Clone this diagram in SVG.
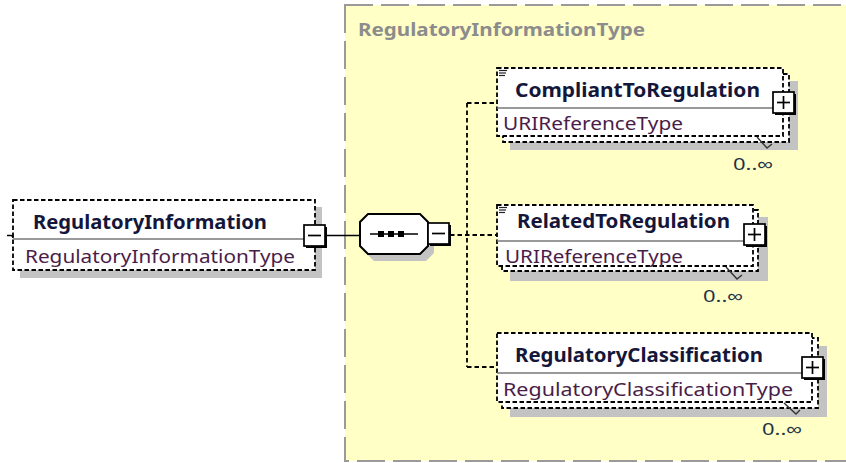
<svg xmlns="http://www.w3.org/2000/svg" width="846" height="463" viewBox="0 0 846 463">
<defs>
<style>
.panel{fill:#ffffc6;stroke:#9a9a9a;stroke-width:2;stroke-dasharray:28 8}
.title{font-family:"Noto Sans","Liberation Sans",sans-serif;font-weight:bold;font-size:18px;fill:#8c8c8c}
.shadow{fill:#c3c3c3}
.box{fill:#fff;stroke:#000;stroke-width:1.8;stroke-dasharray:4.5 2.5}
.div{stroke:#777;stroke-width:1.4}
.name{font-family:"Noto Sans","Liberation Sans",sans-serif;font-weight:bold;font-size:19px;fill:#14163a}
.type{font-family:"Noto Sans","Liberation Sans",sans-serif;font-size:18.5px;fill:#4a1d48}
.occ{font-family:"Noto Sans","Liberation Sans",sans-serif;font-size:17px;fill:#1e3446}
.btnsh{fill:#000}
.btn{fill:#fff;stroke:#000;stroke-width:1.7}
.glyph{stroke:#000;stroke-width:1.7}
.solid{stroke:#000;stroke-width:1.7;fill:none}
.dash{stroke:#000;stroke-width:1.8;fill:none;stroke-dasharray:4.5 3}
.chev{stroke:#333;stroke-width:1.4;fill:none}
.icon{stroke:#222;stroke-width:1.2}
</style>
</defs>

<g id="panel">
<rect class="panel" x="345" y="5" width="530" height="456"/>
<text class="title" x="358" y="36" textLength="287" lengthAdjust="spacingAndGlyphs">RegulatoryInformationType</text>
</g>

<g id="connectors">
<line class="solid" x1="325" y1="235.5" x2="360" y2="235.5"/>
<line class="dash" x1="450" y1="235" x2="497" y2="235"/>
<line class="dash" x1="467" y1="103" x2="467" y2="367"/>
<line class="dash" x1="467" y1="103" x2="497" y2="103"/>
<line class="dash" x1="467" y1="367" x2="497" y2="367"/>
</g>

<g id="RegulatoryInformation">
<rect class="shadow" x="20" y="207" width="302" height="71"/>
<rect class="box" x="13" y="200" width="302" height="70"/>
<line class="div" x1="13" y1="239" x2="315" y2="239"/>
<path class="solid" d="M7,235.5 H11 Q13,235.5 13,238" stroke-width="1.3"/>
<text class="name" x="33" y="229" textLength="234" lengthAdjust="spacingAndGlyphs">RegulatoryInformation</text>
<text class="type" x="25" y="263" textLength="270" lengthAdjust="spacingAndGlyphs">RegulatoryInformationType</text>
<rect class="btnsh" x="306" y="227" width="21" height="21"/>
<rect class="btn" x="304" y="225" width="21" height="21"/>
<line class="glyph" x1="308" y1="235.5" x2="321" y2="235.5"/>
</g>

<g id="sequence">
<polygon class="shadow" points="374,221 426,221 434,229 434,253 426,261 374,261 366,253 366,229"/>
<polygon points="368,214 420,214 428,222 428,246 420,254 368,254 360,246 360,222" fill="#fff" stroke="#000" stroke-width="2"/>
<line class="solid" x1="370" y1="234" x2="418" y2="234"/>
<rect x="378" y="231" width="6" height="6" fill="#000"/>
<rect x="388" y="231" width="6" height="6" fill="#000"/>
<rect x="398" y="231" width="6" height="6" fill="#000"/>
<rect class="btnsh" x="430" y="225" width="21" height="21"/>
<rect class="btn" x="428" y="223" width="21" height="21"/>
<line class="glyph" x1="432" y1="233.5" x2="445" y2="233.5"/>
</g>

<g id="CompliantToRegulation">
<rect class="shadow" x="510" y="81" width="288" height="69"/>
<rect class="box" x="503" y="74" width="286" height="68"/>
<rect class="box" x="497" y="68" width="286" height="68"/>
<line class="div" x1="497" y1="108" x2="783" y2="108"/>
<line class="icon" x1="499" y1="70.5" x2="507" y2="70.5"/>
<line class="icon" x1="499" y1="73" x2="506" y2="73"/>
<line class="icon" x1="499" y1="75.5" x2="505" y2="75.5"/>
<text class="name" x="515" y="97" textLength="245" lengthAdjust="spacingAndGlyphs">CompliantToRegulation</text>
<text class="type" x="503" y="130" textLength="180" lengthAdjust="spacingAndGlyphs">URIReferenceType</text>
<polyline class="chev" points="757,137 767,148 772,144"/>
<rect class="btnsh" x="775" y="94" width="21" height="21"/>
<rect class="btn" x="773" y="92" width="21" height="21"/>
<line class="glyph" x1="777" y1="102.5" x2="790" y2="102.5"/>
<line class="glyph" x1="783.5" y1="96" x2="783.5" y2="109"/>
<text class="occ" x="733" y="170" textLength="40" lengthAdjust="spacingAndGlyphs">0..∞</text>
</g>

<g id="RelatedToRegulation">
<rect class="shadow" x="510" y="217" width="258" height="64"/>
<rect class="box" x="502" y="210" width="256" height="61"/>
<rect class="box" x="497" y="205" width="256" height="61"/>
<line class="div" x1="497" y1="241" x2="753" y2="241"/>
<line class="icon" x1="499" y1="207.5" x2="507" y2="207.5"/>
<line class="icon" x1="499" y1="210" x2="506" y2="210"/>
<line class="icon" x1="499" y1="212.5" x2="505" y2="212.5"/>
<text class="name" x="517" y="228" textLength="213" lengthAdjust="spacingAndGlyphs">RelatedToRegulation</text>
<text class="type" x="505" y="263" textLength="178" lengthAdjust="spacingAndGlyphs">URIReferenceType</text>
<polyline class="chev" points="726,267 737,279 742,275"/>
<rect class="btnsh" x="746" y="226" width="21" height="21"/>
<rect class="btn" x="744" y="224" width="21" height="21"/>
<line class="glyph" x1="748" y1="234.5" x2="761" y2="234.5"/>
<line class="glyph" x1="754.5" y1="228" x2="754.5" y2="241"/>
<text class="occ" x="703" y="302" textLength="40" lengthAdjust="spacingAndGlyphs">0..∞</text>
</g>

<g id="RegulatoryClassification">
<rect class="shadow" x="510" y="346" width="317" height="71"/>
<rect class="box" x="502" y="338" width="316" height="70"/>
<rect class="box" x="497" y="333" width="315" height="69"/>
<line class="div" x1="497" y1="373" x2="812" y2="373"/>
<text class="name" x="515" y="362" textLength="248" lengthAdjust="spacingAndGlyphs">RegulatoryClassification</text>
<text class="type" x="503" y="396" textLength="290" lengthAdjust="spacingAndGlyphs">RegulatoryClassificationType</text>
<polyline class="chev" points="784,403 796,414 800,410"/>
<rect class="btnsh" x="804" y="359" width="21" height="21"/>
<rect class="btn" x="802" y="357" width="21" height="21"/>
<line class="glyph" x1="806" y1="367.5" x2="819" y2="367.5"/>
<line class="glyph" x1="812.5" y1="361" x2="812.5" y2="374"/>
<text class="occ" x="762" y="435" textLength="40" lengthAdjust="spacingAndGlyphs">0..∞</text>
</g>
</svg>
